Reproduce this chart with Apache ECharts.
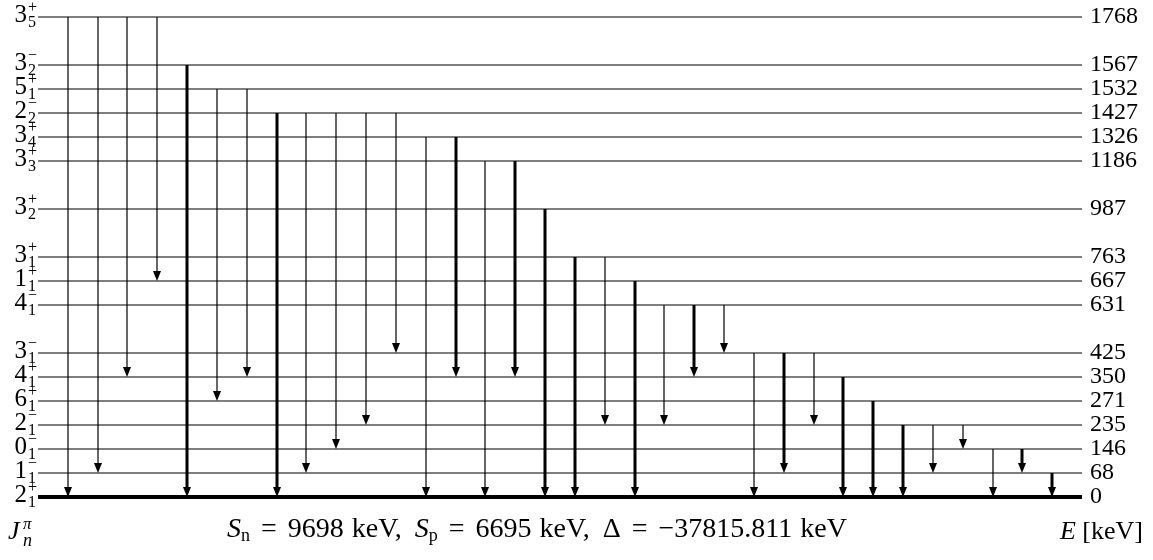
<!DOCTYPE html>
<html>
<head>
<meta charset="utf-8">
<script src="https://cdn.jsdelivr.net/npm/echarts@6/dist/echarts.min.js"></script>
<style>
  html, body { margin: 0; padding: 0; background: #fff; }
  #chart { width: 1153px; height: 560px; }
</style>
</head>
<body>
<div id="chart"></div>
<script>
// Level energies (keV) with spin, parity and running index n of each J^pi
const levelEnergy = [0, 68, 146, 235, 271, 350, 425, 631, 667, 763, 987, 1186, 1326, 1427, 1532, 1567, 1768];
const levelSpin   = ['2', '1', '0', '2', '6', '4', '3', '4', '1', '3', '3', '3', '3', '2', '5', '3', '3'];
const levelParity = ['+', '−', '−', '−', '+', '+', '−', '−', '+', '+', '+', '+', '+', '−', '+', '−', '+'];
const levelIndex  = [1, 1, 1, 1, 1, 1, 1, 1, 1, 1, 2, 3, 4, 2, 1, 2, 5];

// Gamma transitions: initial level, final level, strong (1) or weak (0)
const gammaFrom   = [1768, 1768, 1768, 1768, 1567, 1532, 1532, 1427, 1427, 1427, 1427, 1427, 1326, 1326, 1186, 1186, 987, 763, 763, 667, 631, 631, 631, 425, 425, 425, 350, 271, 235, 235, 235, 146, 146, 68];
const gammaTo     = [0, 68, 350, 667, 0, 271, 350, 0, 68, 146, 235, 425, 0, 350, 0, 350, 0, 0, 235, 0, 235, 350, 425, 0, 68, 235, 0, 0, 0, 68, 146, 0, 68, 0];
const gammaStrong = [0, 0, 0, 0, 1, 0, 0, 1, 0, 0, 0, 0, 0, 1, 0, 1, 1, 1, 0, 1, 0, 1, 0, 0, 1, 0, 1, 1, 1, 0, 0, 0, 1, 1];

// Separation energies and mass excess (keV)
const captionSn = '9698', captionSp = '6695', captionDelta = '−37815.811';

// Levels sit on a slot ladder: one slot per level, two where the energy gap is large
const levelSlot = [];
levelEnergy.forEach((e, i) => {
  levelSlot.push(i === 0 ? 0 : levelSlot[i - 1] + Math.max(1, Math.round((e - levelEnergy[i - 1]) / 120)));
});
const slotOf = e => levelSlot[levelEnergy.indexOf(e)];
const topSlot = levelSlot[levelSlot.length - 1];
const xMin = -1, xMax = gammaFrom.length;

const FONT = '"Liberation Serif", "Times New Roman", serif';

const chart = echarts.init(document.getElementById('chart'), null, { renderer: 'canvas' });

const option = {
  backgroundColor: '#fff',
  animation: false,
  grid: { left: 38, right: 71, top: 17, bottom: 63 },
  xAxis: { type: 'value', min: xMin, max: xMax, show: false },
  yAxis: { type: 'value', min: 0, max: topSlot, show: false },
  series: [
    {
      type: 'custom',
      name: 'levels',
      z: 2,
      silent: true,
      clip: false,
      encode: { x: 0, y: 1 },
      data: levelEnergy.map((e, i) => [i, levelSlot[i], e]),
      renderItem(params, api) {
        const i = api.value(0);
        const s = api.value(1);
        const a = api.coord([xMin, s]);
        const b = api.coord([xMax, s]);
        const y = a[1];
        const sx = a[0] - 10;
        return {
          type: 'group',
          children: [
            { type: 'line', shape: { x1: a[0], y1: y, x2: b[0], y2: y },
              style: { stroke: '#000', lineWidth: i === 0 ? 3.8 : 1.1 } },
            { type: 'text', style: { text: levelSpin[i], x: sx - 1, y: y - 2, align: 'right', verticalAlign: 'middle',
              fontFamily: FONT, fontSize: 25, fill: '#000' } },
            { type: 'text', style: { text: levelParity[i], x: sx, y: y - 9, align: 'left', verticalAlign: 'middle',
              fontFamily: FONT, fontSize: 16, fill: '#000' } },
            { type: 'text', style: { text: String(levelIndex[i]), x: sx, y: y + 6, align: 'left', verticalAlign: 'middle',
              fontFamily: FONT, fontSize: 16, fill: '#000' } },
            { type: 'text', style: { text: String(api.value(2)), x: b[0] + 8, y: y, align: 'left', verticalAlign: 'middle',
              fontFamily: FONT, fontSize: 24, fill: '#000' } }
          ]
        };
      }
    },
    {
      type: 'custom',
      name: 'gammas',
      z: 3,
      silent: true,
      clip: false,
      encode: { x: 0, y: [1, 2] },
      data: gammaFrom.map((f, k) => [k, slotOf(f), slotOf(gammaTo[k]), gammaStrong[k]]),
      renderItem(params, api) {
        const k = api.value(0);
        const p0 = api.coord([k, api.value(1)]);
        const p1 = api.coord([k, api.value(2)]);
        const strong = api.value(3) === 1;
        const headL = 10, headW = 4;
        const x = Math.round(p0[0]);
        return {
          type: 'group',
          children: [
            { type: 'line', shape: { x1: x, y1: p0[1], x2: x, y2: p1[1] - headL + 1 },
              style: { stroke: '#000', lineWidth: strong ? 3 : 1.2 } },
            { type: 'polygon', shape: { points: [[x - headW, p1[1] - headL], [x + headW, p1[1] - headL], [x, p1[1]]] },
              style: { fill: '#000' } }
          ]
        };
      }
    }
  ],
  graphic: [
    // J^pi_n heading of the spin column
    { type: 'text', x: 8, y: 532, style: { text: 'J', fontFamily: FONT, fontStyle: 'italic', fontSize: 26, fill: '#000', verticalAlign: 'middle' } },
    { type: 'text', x: 23, y: 525, style: { text: 'π', fontFamily: FONT, fontStyle: 'italic', fontSize: 17, fill: '#000', verticalAlign: 'middle' } },
    { type: 'text', x: 23, y: 541, style: { text: 'n', fontFamily: FONT, fontStyle: 'italic', fontSize: 18, fill: '#000', verticalAlign: 'middle' } },
    // separation energies and mass excess
    {
      type: 'text', x: 227, y: 530,
      style: {
        text: '{s|S}{sub|n}{eq|=}' + captionSn + '{u|keV,}{s2|S}{sub|p}{eq|=}' + captionSp + '{u|keV,}{d|Δ}{eq|=}' + captionDelta + '{u|keV}',
        fontFamily: FONT, fontSize: 28, fill: '#000', lineHeight: 30,
        align: 'left', verticalAlign: 'middle',
        rich: {
          s: { fontFamily: FONT, fontStyle: 'italic', fontSize: 28, lineHeight: 30 },
          s2: { fontFamily: FONT, fontStyle: 'italic', fontSize: 28, lineHeight: 30, padding: [0, 0, 0, 13] },
          d: { fontFamily: FONT, fontSize: 28, lineHeight: 30, padding: [0, 0, 0, 13] },
          sub: { fontFamily: FONT, fontSize: 18, lineHeight: 20, verticalAlign: 'bottom' },
          eq: { fontFamily: FONT, fontSize: 28, lineHeight: 30, padding: [0, 11, 0, 11] },
          u: { fontFamily: FONT, fontSize: 28, lineHeight: 30, padding: [0, 0, 0, 8] }
        }
      }
    },
    // energy column heading
    {
      type: 'text', x: 1143, y: 532,
      style: {
        text: '{e|E} [keV]', fontFamily: FONT, fontSize: 26, fill: '#000',
        align: 'right', verticalAlign: 'middle',
        rich: { e: { fontFamily: FONT, fontStyle: 'italic', fontSize: 26 } }
      }
    }
  ]
};

chart.setOption(option);
</script>
</body>
</html>
